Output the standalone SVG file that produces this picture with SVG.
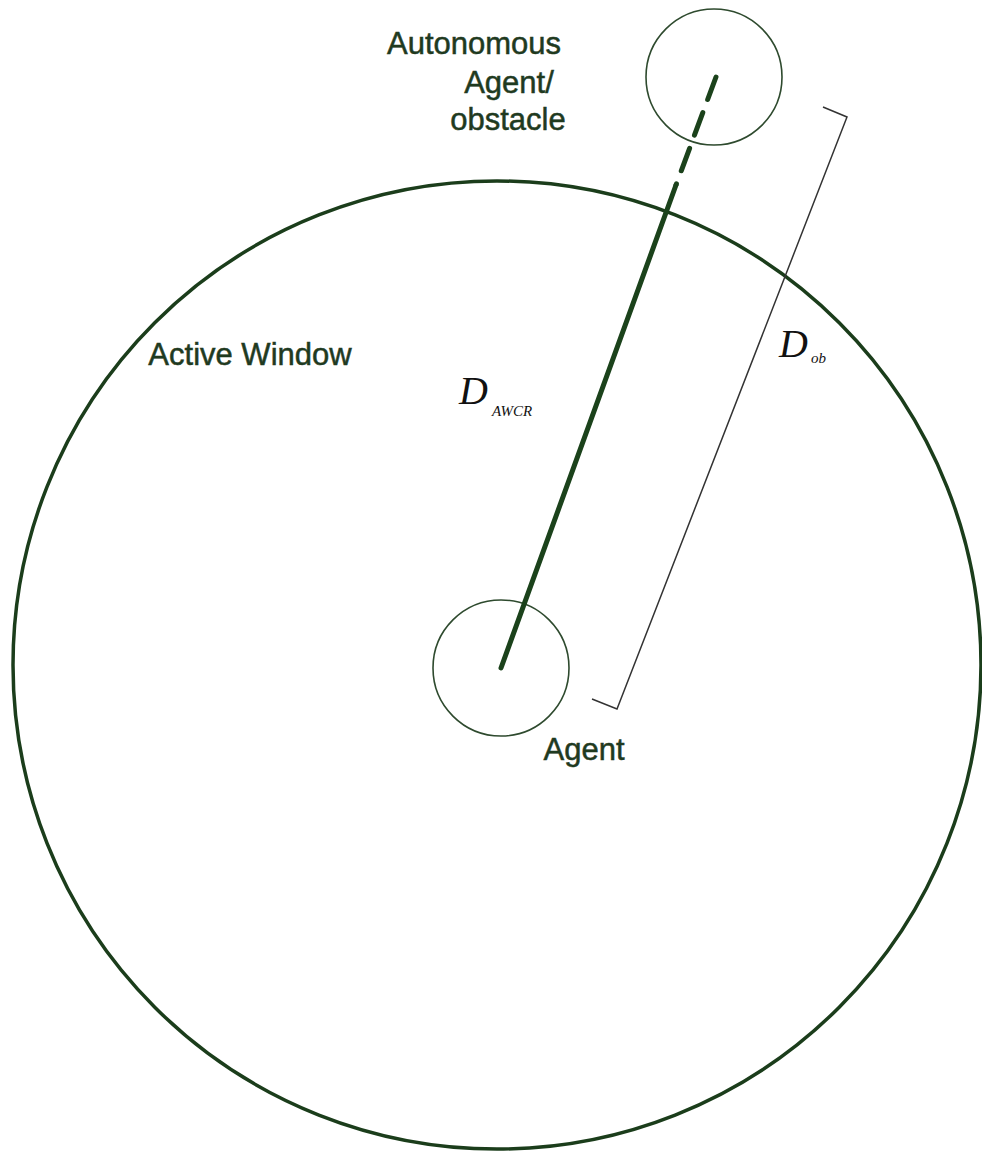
<svg xmlns="http://www.w3.org/2000/svg" width="982" height="1153" viewBox="0 0 982 1153">
<style>
.lbl{font-family:"Liberation Sans",Arial,sans-serif;font-size:31px;fill:#1f3a1f;stroke:#1f3a1f;stroke-width:0.5;text-anchor:middle}
.math{font-family:"Liberation Serif","Times New Roman",serif;font-style:italic;fill:#111}
.thin{fill:none;stroke:#2e4a2e;stroke-width:1.6}
.bracket{fill:none;stroke:#333;stroke-width:1.5}
.dist{stroke:#1b421b;stroke-width:5;stroke-linecap:round;fill:none}
</style>
<rect width="982" height="1153" fill="#fff"/>
<g id="active-window">
<circle cx="497" cy="665" r="484" fill="none" stroke="#1b3d1b" stroke-width="3.5"/>
<text class="lbl" x="250" y="365">Active Window</text>
</g>
<g id="agent">
<circle class="thin" cx="501" cy="668" r="68"/>
<text class="lbl" x="584" y="760">Agent</text>
</g>
<g id="obstacle">
<circle class="thin" cx="714" cy="77" r="68"/>
<text class="lbl" x="474" y="54">Autonomous</text>
<text class="lbl" x="509" y="93">Agent/</text>
<text class="lbl" x="508" y="130">obstacle</text>
</g>
<g id="connectors">
<line class="dist" x1="501" y1="668" x2="676" y2="185"/>
<line class="dist" x1="716" y1="77" x2="676" y2="185" stroke-dasharray="24 14" stroke-linecap="butt"/>
<polyline class="bracket" points="592,699 617,709 847,117 823,107"/>
</g>
<g id="labels-math">
<text class="math" x="459" y="404" font-size="40">D</text>
<text class="math" x="492" y="416" font-size="15">AWCR</text>
<text class="math" x="779" y="357" font-size="40">D</text>
<text class="math" x="811" y="363" font-size="15">ob</text>
</g>
</svg>
